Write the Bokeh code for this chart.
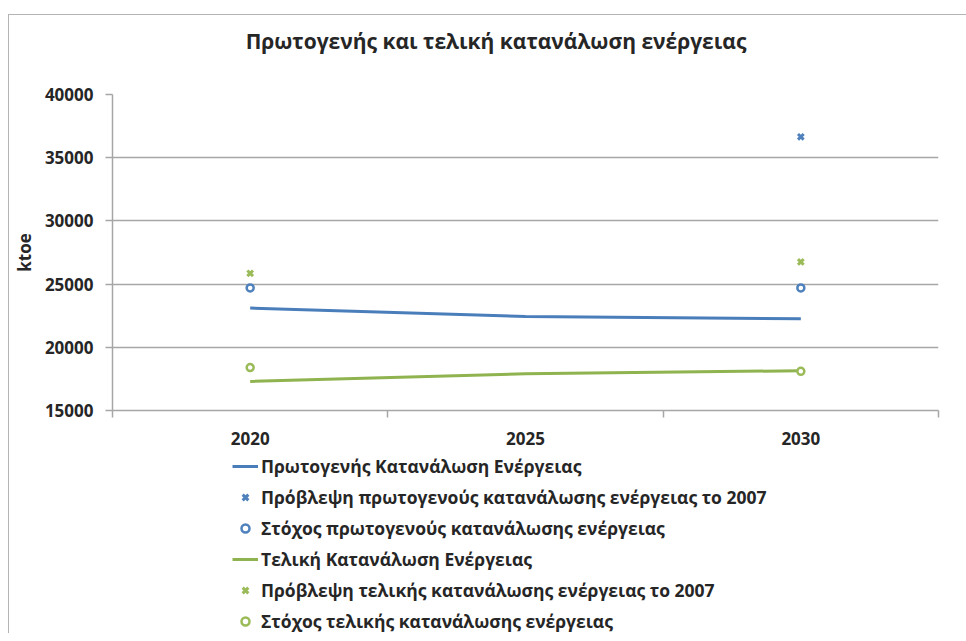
from bokeh.plotting import figure
from bokeh.layouts import column
from bokeh.models import (Range1d, FixedTicker, Legend, LegendItem, Div)
from bokeh.embed import file_html
from bokeh.resources import INLINE

# ---- data ----
years = [2020, 2025, 2030]
year_labels = ["2020", "2025", "2030"]
primary_consumption = [23100, 22430, 22250]
final_consumption = [17300, 17900, 18150]

primary_forecast_years = [2030]
primary_forecast_2007 = [36650]
primary_target_years = [2020, 2030]
primary_target = [24700, 24700]

final_forecast_years = [2020, 2030]
final_forecast_2007 = [25850, 26750]
final_target_years = [2020, 2030]
final_target = [18400, 18100]

y_ticks = [15000, 20000, 25000, 30000, 35000, 40000]
category_edges = [2017.5, 2022.5, 2027.5, 2032.5]

title_text = "Πρωτογενής και τελική κατανάλωση ενέργειας"
y_label = "ktoe"
names = [
    "Πρωτογενής Κατανάλωση Ενέργειας",
    "Πρόβλεψη πρωτογενούς κατανάλωσης ενέργειας το 2007",
    "Στόχος πρωτογενούς κατανάλωσης ενέργειας",
    "Τελική Κατανάλωση Ενέργειας",
    "Πρόβλεψη τελικής κατανάλωσης ενέργειας το 2007",
    "Στόχος τελικής κατανάλωσης ενέργειας",
]

BLUE_LINE = "#4a7ebb"
BLUE = "#4f81bd"
GREEN_LINE = "#8fb34f"
GREEN = "#9bbb59"
GRID = "#a6a6a6"
TEXT = "#262626"
FONT = "Open Sans"

W = 940
TW = 957  # title strip spans to the right edge of the window

# ---- title strip ----
title_div = Div(
    text=(f'<div style="width:{TW}px; box-sizing:border-box; padding-left:17px; '
          f'padding-top:12px; text-align:center; font-family:\'{FONT}\'; '
          f'font-weight:bold; font-size:21px; line-height:29px; color:{TEXT}; '
          f'white-space:nowrap;">{title_text}</div>'),
    width=TW, height=40, margin=0)

# ---- main chart ----
H = 395
TOP = 39
FRAME_H = 316
p = figure(width=W, height=H, output_backend="svg", toolbar_location=None,
           x_range=Range1d(category_edges[0], category_edges[-1]),
           y_range=Range1d(y_ticks[0], y_ticks[-1]),
           min_border_left=101, min_border_right=11, min_border_top=TOP,
           min_border_bottom=H - TOP - FRAME_H)

p.outline_line_color = None
p.background_fill_color = "white"
p.border_fill_color = "white"

# x axis
xa = p.xaxis[0]
xa.ticker = FixedTicker(ticks=years, minor_ticks=category_edges)
xa.major_label_overrides = {y: l for y, l in zip(years, year_labels)}
xa.major_tick_out = 0
xa.major_tick_in = 0
xa.minor_tick_out = 7
xa.minor_tick_in = 0
xa.minor_tick_line_color = GRID
xa.minor_tick_line_width = 1.5
xa.axis_line_color = GRID
xa.axis_line_width = 1.5
xa.major_label_text_font = FONT
xa.major_label_text_font_size = "17px"
xa.major_label_text_font_style = "bold"
xa.major_label_text_color = TEXT
xa.major_label_standoff = 14

# y axis
ya = p.yaxis[0]
ya.ticker = FixedTicker(ticks=y_ticks, minor_ticks=[])
ya.major_tick_out = 7
ya.major_tick_in = 0
ya.major_tick_line_color = GRID
ya.major_tick_line_width = 1.5
ya.minor_tick_line_color = None
ya.axis_line_color = GRID
ya.axis_line_width = 1.5
ya.major_label_text_font = FONT
ya.major_label_text_font_size = "17px"
ya.major_label_text_font_style = "bold"
ya.major_label_text_color = TEXT
ya.major_label_standoff = 12
ya.axis_label = y_label
ya.axis_label_text_font = FONT
ya.axis_label_text_font_size = "17px"
ya.axis_label_text_font_style = "bold"
ya.axis_label_text_color = TEXT
ya.axis_label_standoff = 6

p.xgrid.grid_line_color = None
p.ygrid.ticker = FixedTicker(ticks=y_ticks)
p.ygrid.grid_line_color = GRID
p.ygrid.grid_line_width = 1.5

line_kw_blue = dict(line_color=BLUE_LINE, line_width=3)
line_kw_green = dict(line_color=GREEN_LINE, line_width=3)
x_kw_blue = dict(marker="x", size=8, line_color=BLUE, line_width=3)
x_kw_green = dict(marker="x", size=8, line_color=GREEN, line_width=3)
o_kw_blue = dict(marker="circle", size=7, line_color=BLUE, fill_color="white", line_width=2.5)
o_kw_green = dict(marker="circle", size=7, line_color=GREEN, fill_color="white", line_width=2.5)


def draw_series(fig):
    return [
        fig.line(years, primary_consumption, **line_kw_blue),
        fig.scatter(primary_forecast_years, primary_forecast_2007, **x_kw_blue),
        fig.scatter(primary_target_years, primary_target, **o_kw_blue),
        fig.line(years, final_consumption, **line_kw_green),
        fig.scatter(final_forecast_years, final_forecast_2007, **x_kw_green),
        fig.scatter(final_target_years, final_target, **o_kw_green),
    ]


draw_series(p)

# ---- legend strip below the chart: same series, y range chosen so marks stay out of view ----
LH = 183
lf = figure(width=W, height=LH, output_backend="svg", toolbar_location=None,
            x_range=p.x_range, y_range=Range1d(0, 1), min_border=0)
lf.axis.visible = False
lf.grid.grid_line_color = None
lf.outline_line_color = None
lf.border_fill_color = "white"
lf.background_fill_color = "white"

legend_renderers = draw_series(lf)

items = [LegendItem(label=n, renderers=[r]) for n, r in zip(names, legend_renderers)]
legend = Legend(items=items, location=(120, 0), orientation="vertical",
                glyph_width=26, glyph_height=20, label_height=20, spacing=7,
                label_standoff=3, padding=0, margin=0,
                border_line_color=None, background_fill_alpha=0,
                label_text_font=FONT, label_text_font_size="17.5px",
                label_text_font_style="bold", label_text_color=TEXT)
lf.add_layout(legend, "center")

layout = column(title_div, p, lf, spacing=0)
layout.margin = (14, 0, 0, 8)
layout.styles = {"border-top": "1px solid #b4b4b4", "border-left": "1px solid #b4b4b4"}

open("out.html", "w").write(file_html(layout, INLINE))
